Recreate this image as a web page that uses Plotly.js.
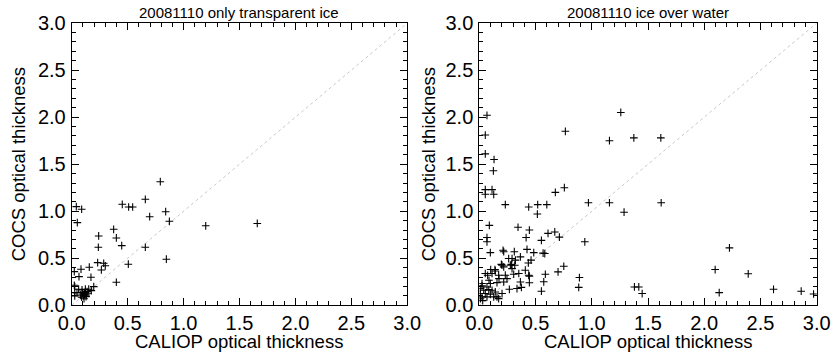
<!DOCTYPE html>
<html>
<head>
<meta charset="utf-8">
<script src="https://cdn.plot.ly/plotly-3.0.1.min.js"></script>
<style>html,body{margin:0;padding:0;background:#fff;}#chart{width:831px;height:354px;}</style>
</head>
<body>
<div id="chart"></div>
<script>
// Panel titles and axis labels
const titleLeft = "20081110 only transparent ice";
const titleRight = "20081110 ice over water";
const xLabel = "CALIOP optical thickness";
const yLabel = "COCS optical thickness";
const tickVals = [0.0, 0.5, 1.0, 1.5, 2.0, 2.5, 3.0];
const tickText = ["0.0", "0.5", "1.0", "1.5", "2.0", "2.5", "3.0"];

// 1:1 reference line
const diagX = [0, 3];
const diagY = [0, 3];

// Left panel: only transparent ice (CALIOP x, COCS y)
const iceX = [0.792,0.452,0.509,0.545,0.658,0.697,0.840,0.873,1.198,1.659,
  0.041,0.089,0.050,0.375,0.399,0.447,0.241,0.238,0.658,0.846,
  0.506,0.399,0.232,0.286,0.300,0.265,0.157,0.083,0.023,0.065,
  0.172,0.023,0.027,0.197,0.092,0.122,0.137,0.098,0.116,0.146,
  0.152,0.107,0.077,0.047,0.027,0.062,0.175,0.089,0.128,0.027,
  0.110,0.130,0.120];
const iceY = [1.314,1.074,1.045,1.045,1.127,0.942,0.995,0.893,0.845,0.870,
  1.049,1.021,0.879,0.808,0.716,0.634,0.737,0.617,0.617,0.490,
  0.437,0.245,0.454,0.447,0.420,0.376,0.405,0.384,0.358,0.305,
  0.298,0.213,0.200,0.199,0.164,0.171,0.146,0.135,0.121,0.128,
  0.171,0.100,0.110,0.135,0.135,0.171,0.156,0.086,0.092,0.100,
  0.070,0.110,0.140];

// Right panel: ice over water (CALIOP x, COCS y)
const iowX = [0.068,0.053,0.053,0.131,0.125,0.053,0.053,0.113,0.128,0.765,
  1.258,1.157,1.374,1.614,0.756,0.676,0.231,0.439,0.519,0.600,
  0.516,0.970,1.157,1.617,1.287,0.938,0.089,0.344,0.445,0.068,
  0.068,0.416,0.611,0.671,0.712,0.552,0.098,0.211,0.217,0.311,
  0.424,0.484,0.567,0.582,0.460,0.436,0.196,0.285,0.751,0.700,
  0.587,0.573,0.552,0.445,0.445,0.374,0.267,0.890,0.884,1.379,
  1.418,1.448,2.224,2.097,2.133,2.391,2.616,2.862,2.972,
  0.261,0.291,0.321,0.365,0.276,0.315,0.291,0.202,0.217,0.142,
  0.113,0.053,0.306,0.351,0.409,0.439,0.217,0.246,0.231,0.172,
  0.335,0.365,0.101,0.139,0.175,0.157,0.086,0.074,
  0.024,0.068,0.098,0.009,0.039,0.084,0.113,0.142,0.009,0.053,
  0.098,0.024,0.068,0.128,0.157,0.024,0.172,0.202,0.030,0.010];
const iowY = [2.02,1.81,1.61,1.55,1.43,1.23,1.18,1.23,1.18,1.85,
  2.05,1.75,1.78,1.78,1.25,1.20,1.07,1.045,1.07,1.07,
  0.97,1.09,1.09,1.09,0.99,0.675,0.85,0.83,0.80,0.72,
  0.675,0.72,0.765,0.78,0.725,0.69,0.56,0.585,0.57,0.57,
  0.595,0.56,0.555,0.55,0.48,0.45,0.435,0.435,0.415,0.355,
  0.33,0.25,0.15,0.31,0.24,0.19,0.17,0.295,0.19,0.195,
  0.195,0.125,0.61,0.38,0.135,0.335,0.17,0.15,0.12,
  0.497,0.497,0.48,0.515,0.426,0.426,0.39,0.426,0.408,0.365,
  0.338,0.338,0.33,0.338,0.373,0.32,0.248,0.284,0.32,0.32,
  0.178,0.248,0.38,0.38,0.284,0.241,0.266,0.319,
  0.231,0.195,0.231,0.178,0.16,0.167,0.16,0.142,0.125,0.125,
  0.117,0.089,0.089,0.089,0.089,0.206,0.071,0.125,0.05,0.07];

const font = "Liberation Sans, Arial, Helvetica, sans-serif";

const markerStyle = {symbol: "cross-thin", size: 5.5, color: "#000", line: {color: "#000", width: 1.1}};
const diagStyle = {color: "#c8c8c8", width: 1, dash: "dot"};

const traces = [
  {x: diagX, y: diagY, mode: "lines", line: diagStyle, xaxis: "x", yaxis: "y", hoverinfo: "skip"},
  {x: iceX, y: iceY, mode: "markers", marker: markerStyle, xaxis: "x", yaxis: "y"},
  {x: diagX, y: diagY, mode: "lines", line: diagStyle, xaxis: "x2", yaxis: "y2", hoverinfo: "skip"},
  {x: iowX, y: iowY, mode: "markers", marker: markerStyle, xaxis: "x2", yaxis: "y2"}
];

function axis(domain, anchor, standoff) {
  return {
    domain: domain, anchor: anchor, range: [0, 3],
    tickvals: tickVals, ticktext: tickText,
    ticks: "inside", ticklen: 7, tickwidth: 1, tickcolor: "#000",
    minor: {dtick: 0.1, tick0: 0, ticks: "inside", ticklen: 4, tickwidth: 1, tickcolor: "#000"},
    showline: true, linecolor: "#000", linewidth: 1, mirror: "allticks",
    showgrid: false, zeroline: false,
    tickfont: {family: font, size: 20, color: "#000"},
    ticklabelstandoff: standoff,
    ticklabeloverflow: "allow"
  };
}

const yDom = [0.1376, 0.9347];
const titleFont = {family: font, size: 18.5, color: "#000"};
const layout = {
  width: 831, height: 354,
  margin: {l: 0, r: 0, t: 0, b: 0},
  paper_bgcolor: "#fff", plot_bgcolor: "#fff",
  showlegend: false,
  xaxis: axis([0.0863, 0.4901], "y", 0),
  yaxis: axis(yDom, "x", 1),
  xaxis2: axis([0.5768, 0.9828], "y2", 0),
  yaxis2: axis(yDom, "x2", 1),
  annotations: [
    {text: titleLeft, xref: "paper", yref: "paper", x: 0.2882, y: 0.964, showarrow: false,
     xanchor: "center", yanchor: "middle", font: {family: font, size: 15, color: "#000"}},
    {text: titleRight, xref: "paper", yref: "paper", x: 0.7798, y: 0.964, showarrow: false,
     xanchor: "center", yanchor: "middle", font: {family: font, size: 15, color: "#000"}},
    {text: xLabel, xref: "paper", yref: "paper", x: 0.2882, y: 0, showarrow: false,
     xanchor: "center", yanchor: "bottom", font: titleFont},
    {text: xLabel, xref: "paper", yref: "paper", x: 0.7798, y: 0, showarrow: false,
     xanchor: "center", yanchor: "bottom", font: titleFont},
    {text: yLabel, xref: "paper", yref: "paper", x: 18 / 831, y: 0.536, showarrow: false,
     textangle: -90, xanchor: "center", yanchor: "middle", font: titleFont},
    {text: yLabel, xref: "paper", yref: "paper", x: 428 / 831, y: 0.536, showarrow: false,
     textangle: -90, xanchor: "center", yanchor: "middle", font: titleFont}
  ]
};

Plotly.newPlot("chart", traces, layout, {staticPlot: true, displayModeBar: false});
</script>
</body>
</html>
